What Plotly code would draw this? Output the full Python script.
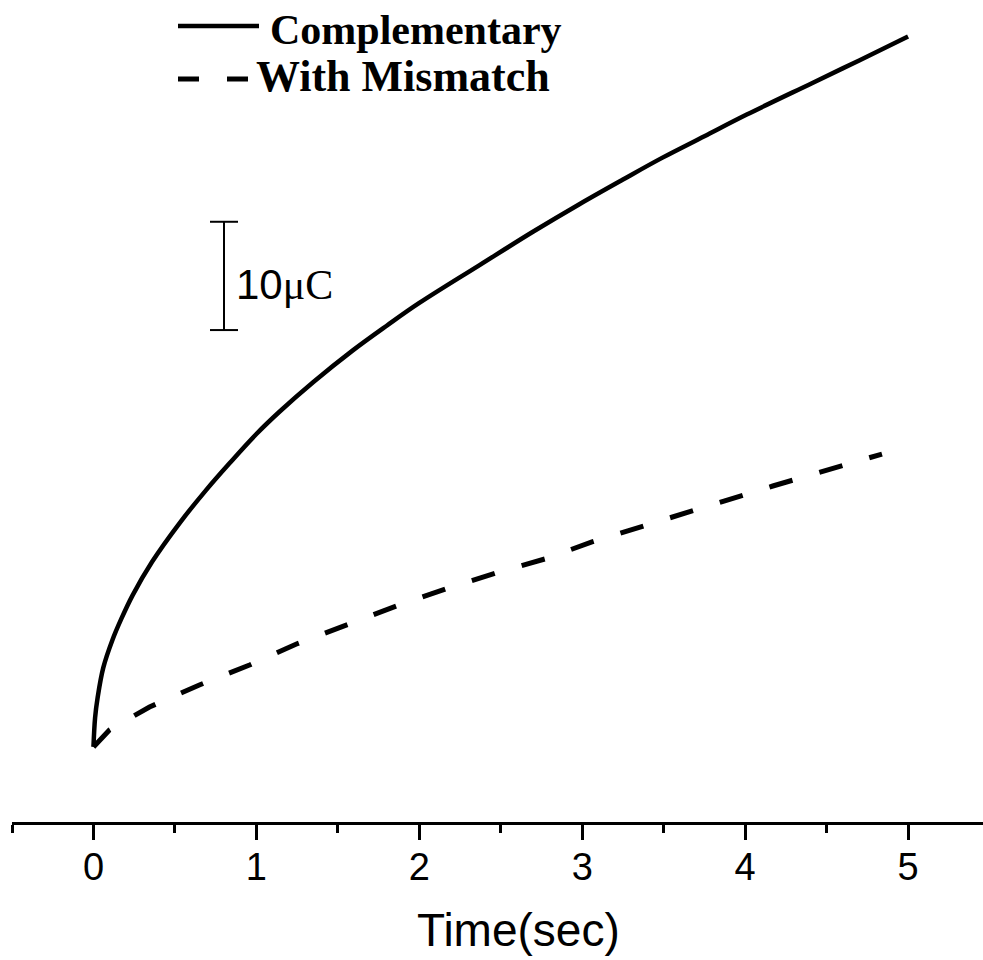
import plotly.graph_objects as go

# Chronocoulometric charge (μC, relative to t = 0) versus time (s)
t_comp = [0, 0.01, 0.026, 0.06, 0.117, 0.17, 0.24, 0.36, 0.53, 0.69, 0.835,
          1.0, 1.145, 1.35, 1.59, 1.8, 2.0, 2.37, 2.7, 2.98, 3.25, 3.49,
          3.75, 4.01, 4.41, 4.7, 5.0]
q_comp = [0, 2.7, 4.6, 7.3, 9.9, 11.8, 14.0, 17.1, 20.7, 23.7, 26.2,
          28.9, 31.0, 33.7, 36.6, 38.9, 41.0, 44.5, 47.6, 50.1, 52.4, 54.4,
          56.4, 58.4, 61.3, 63.4, 65.6]

t_mism = [0, 0.098, 0.344, 0.65, 0.958, 1.246, 1.86, 2.16, 2.47, 2.77,
          3.06, 3.37, 3.57, 3.87, 4.17, 4.48, 4.78, 4.84]
q_mism = [0, 1.57, 3.69, 5.72, 7.57, 9.51, 13.02, 14.59, 16.07, 17.36,
          18.93, 20.41, 21.33, 22.71, 24.1, 25.48, 26.78, 27.05]

series_names = ["Complementary", "With Mismatch"]
x_ticks = [0, 1, 2, 3, 4, 5]
x_title = "Time(sec)"
scale_bar_uc = 10
scale_bar_base = 38.5

W, H = 983, 960
ML, MR, MT, MB = 12, 0, 0, 138
PW, PH = W - ML - MR, H - MT - MB


def px(x):
    return (x - ML) / PW


def py(y):
    return (H - MB - y) / PH


fig = go.Figure()
fig.add_trace(go.Scatter(x=t_comp, y=q_comp, mode="lines", name=series_names[0],
                         line=dict(color="black", width=4.5, shape="spline", smoothing=1.0)))
fig.add_trace(go.Scatter(x=t_mism, y=q_mism, mode="lines", name=series_names[1],
                         line=dict(color="black", width=5, dash="24px,28px")))

shapes = [
    # legend samples
    dict(type="line", xref="paper", yref="paper", x0=px(178), x1=px(259), y0=py(26), y1=py(26),
         line=dict(color="black", width=4.5)),
    dict(type="line", xref="paper", yref="paper", x0=px(178), x1=px(249), y0=py(79), y1=py(79),
         line=dict(color="black", width=5, dash="21px,28px")),
    # 10 μC scale bar
    dict(type="line", xref="paper", yref="y", x0=px(224), x1=px(224),
         y0=scale_bar_base, y1=scale_bar_base + scale_bar_uc, line=dict(color="black", width=2)),
    dict(type="line", xref="paper", yref="y", x0=px(210), x1=px(238),
         y0=scale_bar_base, y1=scale_bar_base, line=dict(color="black", width=2)),
    dict(type="line", xref="paper", yref="y", x0=px(210), x1=px(238),
         y0=scale_bar_base + scale_bar_uc, y1=scale_bar_base + scale_bar_uc,
         line=dict(color="black", width=2)),
]

annotations = [
    dict(text="<b>%s</b>" % series_names[0], xref="paper", yref="paper", x=px(268), y=py(30),
         xanchor="left", yanchor="middle", showarrow=False,
         font=dict(family="Liberation Serif", size=42, color="black")),
    dict(text="<b>%s</b>" % series_names[1], xref="paper", yref="paper", x=px(254), y=py(76),
         xanchor="left", yanchor="middle", showarrow=False,
         font=dict(family="Liberation Serif", size=44, color="black")),
    dict(text="10<span style='font-family:Liberation Serif'>μC</span>", xref="paper", yref="y",
         x=px(234), y=42.7,
         xanchor="left", yanchor="middle", showarrow=False,
         font=dict(family="Liberation Sans", size=42, color="black")),
    dict(text=x_title, xref="paper", yref="paper", x=px(518), y=py(930),
         xanchor="center", yanchor="middle", showarrow=False,
         font=dict(family="Liberation Sans", size=46, color="black")),
]

fig.update_layout(
    width=W, height=H,
    margin=dict(l=ML, r=MR, t=MT, b=MB),
    plot_bgcolor="white", paper_bgcolor="white",
    showlegend=False,
    shapes=shapes, annotations=annotations,
)
fig.update_xaxes(
    range=[-0.5, 5.46],
    tickvals=x_ticks, ticktext=[str(v) for v in x_ticks],
    showline=True, linecolor="black", linewidth=3,
    ticks="outside", ticklen=15, tickwidth=3, tickcolor="black",
    minor=dict(dtick=0.5, tick0=0, ticks="outside", ticklen=8, tickwidth=3, tickcolor="black"),
    showgrid=False, zeroline=False,
    tickfont=dict(family="Liberation Sans", size=38, color="black"),
    ticklabelstandoff=-6,
)
fig.update_yaxes(range=[-6.93, 68.98], visible=False)

fig.write_html("out.html")
